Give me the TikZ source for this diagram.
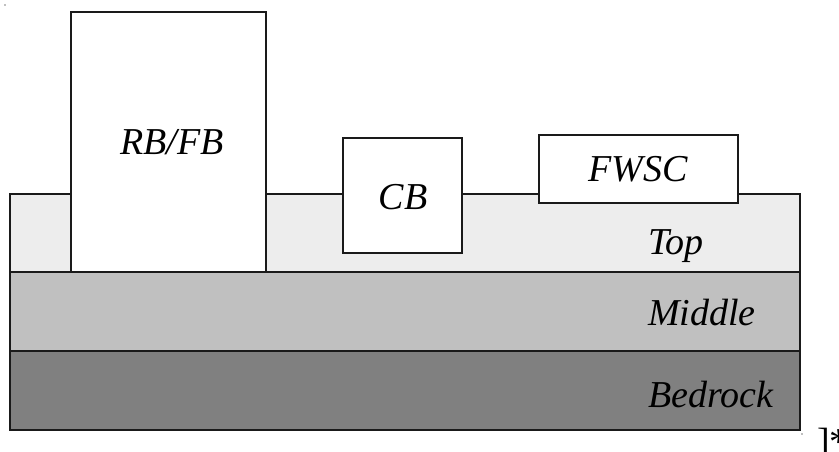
\documentclass[tikz,border=0pt]{standalone}
\usepackage{fontspec}
\setmainfont{Liberation Serif}
\definecolor{toplayer}{HTML}{EDEDED}
\definecolor{midlayer}{HTML}{C0C0C0}
\definecolor{rocklayer}{HTML}{808080}
\definecolor{edge}{HTML}{1A1A1A}
\newcommand{\SOIL}[1]{\fontsize{38}{40}\selectfont\textit{#1}}

\begin{document}
\begin{tikzpicture}[x=1pt,y=-1pt,
  layer/.style={draw=edge, line width=1.6pt},
  unit/.style={fill=white, draw=edge, line width=1.3pt},
  lbl/.style={inner sep=0pt, anchor=base}]
\useasboundingbox (0,0) rectangle (839,452);

% soil layers
\draw[layer, fill=toplayer] (10,194) rectangle (800,272);
\draw[layer, fill=midlayer] (10,272) rectangle (800,351);
\draw[layer, fill=rocklayer] (10,351) rectangle (800,430);

\node[lbl, anchor=base west] (top) at (648,254) {\SOIL{Top}};
\node[lbl, anchor=base west] (middle) at (648,325) {\SOIL{Middle}};
\node[lbl, anchor=base west] (bedrock) at (648,407) {\SOIL{Bedrock}};

% structures on top
\draw[unit] (71,12) rectangle (266,272);
\node[lbl] (rbfb) at (172,154) {\SOIL{RB/FB}};

\draw[unit] (343,138) rectangle (462,253);
\node[lbl] (cb) at (403,209) {\SOIL{CB}};

\draw[unit] (539,135) rectangle (738,203);
\node[lbl] (fwsc) at (638,182) {\SOIL{FWSC}};

% stray marks
\fill[gray] (5,5) circle (0.8);
\fill[gray] (802,434) circle (0.8);
\node[lbl, anchor=base west] (mark) at (817,454) {\fontsize{38}{40}\selectfont ]*};
\end{tikzpicture}
\end{document}
